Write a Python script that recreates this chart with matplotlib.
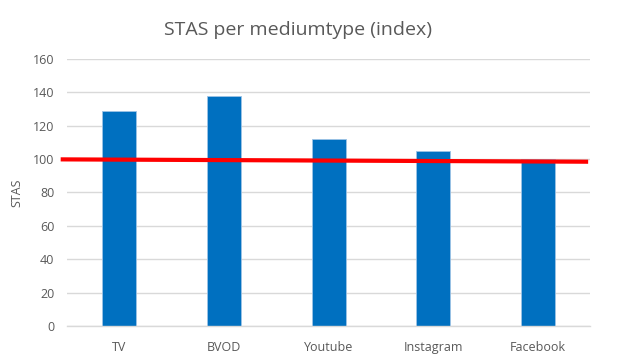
import matplotlib.pyplot as plt

plt.rcParams["font.family"] = ["Open Sans", "DejaVu Sans"]

categories = ["TV", "BVOD", "Youtube", "Instagram", "Facebook"]
stas = [129, 138, 112, 105, 100]

# hand-drawn red reference line (start / end value)
ref_x = [-0.56, 4.48]
ref_y = [99.8, 98.4]

yticks = [0, 20, 40, 60, 80, 100, 120, 140, 160]

grey = "#595959"

fig = plt.figure(figsize=(6.2, 3.55), dpi=100)
ax = fig.add_axes([0.108, 0.082, 0.844, 0.752])

ax.bar(range(len(categories)), stas, width=0.325, color="#0070C0",
	edgecolor="#9dc3e6", linewidth=0.6, zorder=2)
ax.plot(ref_x, ref_y, color="#ff0000", linewidth=3, solid_capstyle="butt",
	zorder=3, clip_on=False)

ax.set_xlim(-0.5, 4.5)
ax.set_ylim(0, 160)
ax.set_yticks(yticks)
ax.set_xticks(range(len(categories)))
ax.set_xticklabels(categories)

ax.grid(axis="y", color="#d9d9d9", linewidth=1, zorder=0)
ax.set_axisbelow(True)
for s in ["top", "right", "left"]:
	ax.spines[s].set_visible(False)
ax.spines["bottom"].set_color("#d9d9d9")
ax.spines["bottom"].set_linewidth(1)

ax.tick_params(axis="both", length=0, labelsize=9, labelcolor=grey)
ax.tick_params(axis="x", pad=11)
ax.tick_params(axis="y", pad=9)

ax.set_ylabel("STAS", fontsize=9, color=grey, labelpad=7)
fig.text(0.48, 0.915, "STAS per mediumtype (index)", ha="center", va="center",
	fontsize=14, color=grey)

plt.savefig("out.png", dpi=100)
